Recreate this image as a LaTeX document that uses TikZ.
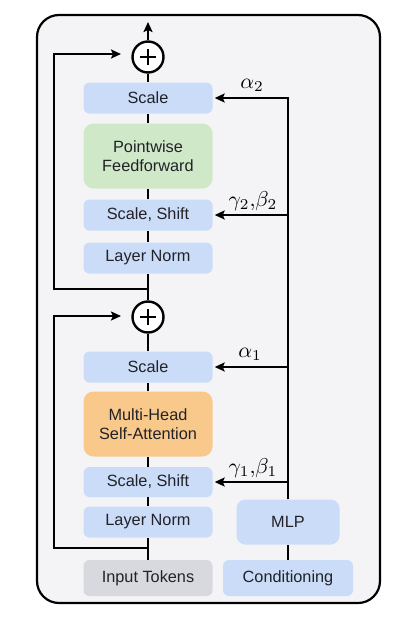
\documentclass[tikz,border=0pt]{standalone}
\usepackage{fontspec}
\setmainfont{Liberation Sans}
\usetikzlibrary{arrows.meta,calc}
\definecolor{bgc}{HTML}{F4F4F7}
\definecolor{bluec}{HTML}{CADCF8}
\definecolor{greenc}{HTML}{CFE8C8}
\definecolor{orangec}{HTML}{F8C98B}
\definecolor{grayc}{HTML}{D7D9DF}
\definecolor{txt}{HTML}{222228}
\newcommand{\biglab}[1]{\scalebox{2.15}{$#1$}}
\begin{document}
\begin{tikzpicture}[x=1pt,y=-1pt,
  blk/.style={draw=none,fill=bluec,rounded corners=6pt,minimum width=129pt,minimum height=31pt,inner sep=0pt,align=center,text=txt,font=\fontsize{16.3}{19.5}\selectfont},
  big/.style={blk,rounded corners=10pt,minimum height=65pt},
  conn/.style={line width=2.6pt,black},
  arr/.style={conn,-{Stealth[length=10pt,width=9pt,inset=2pt]}},
  addc/.style={circle,draw=black,line width=2.4pt,fill=white,minimum size=31pt,inner sep=0pt},
  lbl/.style={text=black,inner sep=0pt}]
\useasboundingbox (0,0) rectangle (407,624);
\draw[line width=2.2pt,fill=bgc,rounded corners=22pt] (37,15) rectangle (380,603);
% nodes
\node[blk] (s2) at (148,98) {Scale};
\node[big,fill=greenc] (pf) at (148,156) {Pointwise\\Feedforward};
\node[blk] (ss2) at (148,215) {Scale, Shift};
\node[blk] (ln2) at (148,258) {Layer Norm};
\node[blk] (s1) at (148,367) {Scale};
\node[big,fill=orangec] (mh) at (148,424) {Multi-Head\\Self-Attention};
\node[blk,minimum height=30pt] (ss1) at (148,482) {Scale, Shift};
\node[blk] (ln1) at (148,522) {Layer Norm};
\node[blk,fill=grayc,minimum height=36pt] (in) at (148,578) {Input Tokens};
\node[blk,minimum width=130pt,minimum height=36pt] (cond) at (288,578) {Conditioning};
\node[blk,rounded corners=9pt,minimum width=103pt,minimum height=45pt] (mlp) at (288,522) {MLP};
\node[addc] (p1) at (148,317) {};
\node[addc] (p2) at (148,57) {};
\foreach \c in {p1,p2}{
  \draw[line width=2.2pt] ($(\c)+(-8,0)$) -- ($(\c)+(8,0)$);
  \draw[line width=2.2pt] ($(\c)+(0,-8)$) -- ($(\c)+(0,8)$);
}
% main path
\coordinate (out) at (148,22);
\coordinate (j1) at (148,548);
\coordinate (j2) at (148,289);
\draw[conn] (in) -- (ln1);
\draw[conn] (ln1) -- (ss1);
\draw[conn] (ss1) -- (mh);
\draw[conn] (mh) -- (s1);
\draw[conn] (s1) -- (p1);
\draw[conn] (p1) -- (ln2);
\draw[conn] (ln2) -- (ss2);
\draw[conn] (ss2) -- (pf);
\draw[conn] (pf) -- (s2);
\draw[conn] (s2) -- (p2);
\draw[arr] (p2) -- (out);
% skips
\coordinate (k1a) at (54,548);
\coordinate (k1b) at (54,316);
\coordinate (k1t) at (121,316);
\draw[arr] (j1) -- (k1a) -- (k1b) -- (k1t);
\coordinate (k2a) at (54,289);
\coordinate (k2b) at (54,54);
\coordinate (k2t) at (121,54);
\draw[arr] (j2) -- (k2a) -- (k2b) -- (k2t);
% conditioning
\draw[conn] (cond) -- (mlp);
\coordinate (r4) at (288,98);
\coordinate (r3) at (288,215);
\coordinate (r2) at (288,367);
\coordinate (r1) at (288,482);
\draw[conn] (mlp.north) -- ($(r4)+(0,-1.3)$);
\draw[arr] ($(r4)+(1.3,0)$) -- ($(s2.east)+(2,0)$);
\draw[arr] (r3) -- ($(ss2.east)+(2,0)$);
\draw[arr] (r2) -- ($(s1.east)+(2,0)$);
\draw[arr] (r1) -- ($(ss1.east)+(2,0)$);
\node[lbl] (la2) at (252,85) {\biglab{\alpha_2}};
\node[lbl] (lg2) at (253,201) {\biglab{\gamma_2{,}\beta_2}};
\node[lbl] (la1) at (250,354) {\biglab{\alpha_1}};
\node[lbl] (lg1) at (253,468) {\biglab{\gamma_1{,}\beta_1}};
\end{tikzpicture}
\end{document}
